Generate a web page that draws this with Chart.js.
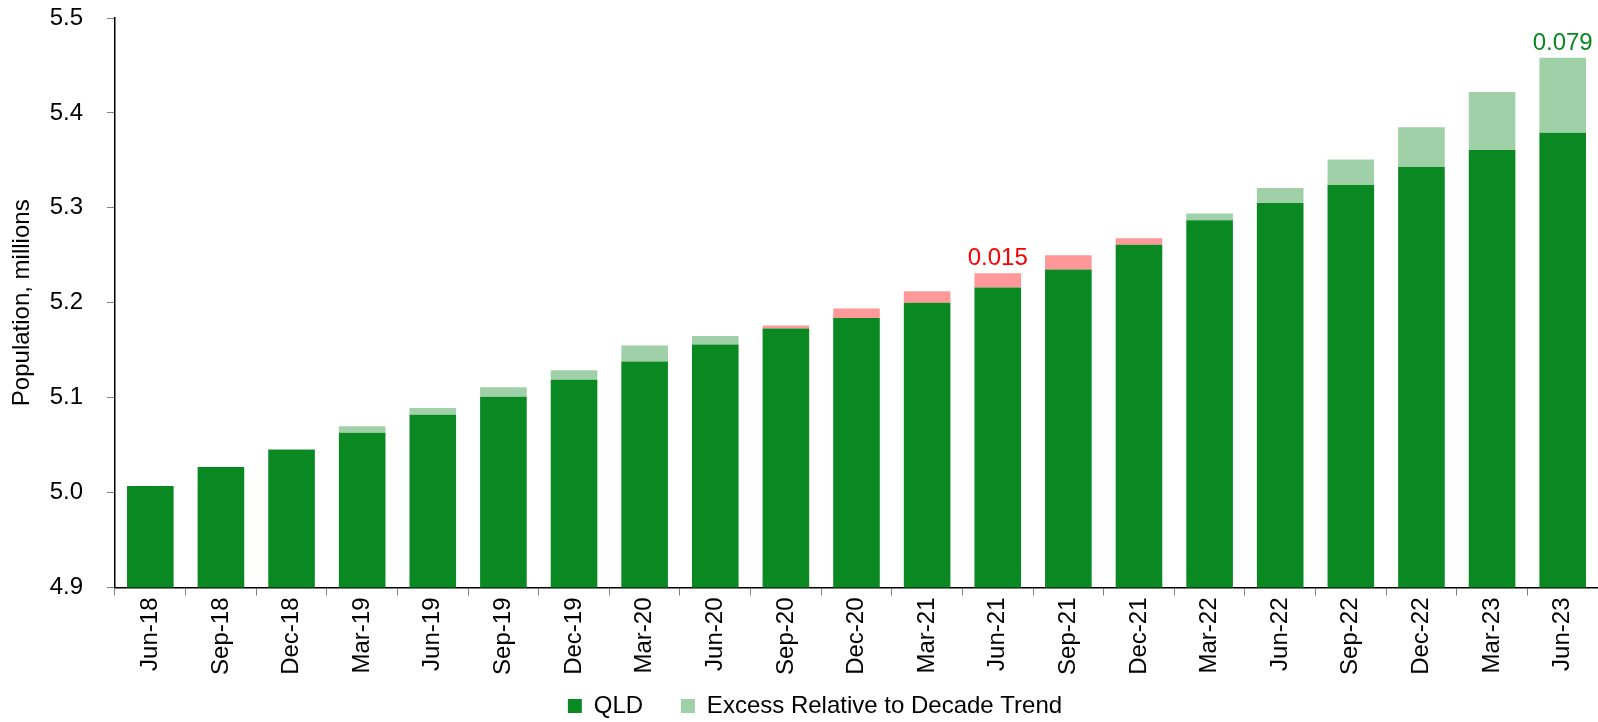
<!DOCTYPE html>
<html>
<head>
<meta charset="utf-8">
<script src="https://cdn.jsdelivr.net/npm/chart.js@4.4.1/dist/chart.umd.min.js"></script>
<style>
    html, body { margin: 0; padding: 0; background: #fff; }
    #wrap { width: 1598px; height: 722px; position: relative; }
</style>
</head>
<body>
<div id="wrap"><canvas id="pop-chart"></canvas></div>
<script>
const quarters = ['Jun-18', 'Sep-18', 'Dec-18', 'Mar-19', 'Jun-19', 'Sep-19', 'Dec-19', 'Mar-20', 'Jun-20', 'Sep-20',
    'Dec-20', 'Mar-21', 'Jun-21', 'Sep-21', 'Dec-21', 'Mar-22', 'Jun-22', 'Sep-22', 'Dec-22', 'Mar-23', 'Jun-23'];
// QLD population, millions
const qld = [5.007, 5.027, 5.045, 5.063, 5.082, 5.101, 5.119, 5.138, 5.156, 5.173,
    5.184, 5.200, 5.216, 5.235, 5.261, 5.287, 5.305, 5.324, 5.343, 5.361, 5.379];
// gap to the decade trend (negative = below trend, drawn in red)
const excess = [0.000, 0.000, 0.001, 0.007, 0.007, 0.010, 0.010, 0.017, 0.009, -0.003,
    -0.010, -0.012, -0.015, -0.015, -0.007, 0.007, 0.016, 0.027, 0.042, 0.061, 0.079];
const labelled = ['Jun-21', 'Jun-23'];
const yTicks = [4.9, 5.0, 5.1, 5.2, 5.3, 5.4, 5.5];

const darkGreen = '#0a8923';
const lightGreen = '#9fd0a8';
const lightRed = '#ff9999';
const fontName = "'Liberation Sans', Arial, sans-serif";

const barLabels = {
    id: 'barLabels',
    afterDatasetsDraw(chart) {
        const ctx = chart.ctx;
        const meta = chart.getDatasetMeta(1);
        ctx.save();
        ctx.font = '24px ' + fontName;
        ctx.textAlign = 'center';
        ctx.textBaseline = 'alphabetic';
        labelled.forEach(q => {
            const i = quarters.indexOf(q);
            const bar = meta.data[i];
            ctx.fillStyle = excess[i] < 0 ? '#ff0000' : '#0a8923';
            ctx.fillText(Math.abs(excess[i]).toFixed(3), bar.x, bar.y - 8);
        });
        ctx.restore();
    }
};

const ctx = document.getElementById('pop-chart').getContext('2d');
new Chart(ctx, {
    type: 'bar',
    data: {
        labels: quarters,
        datasets: [{
            label: 'QLD',
            data: qld,
            backgroundColor: darkGreen,
            barPercentage: 0.66,
            categoryPercentage: 1.0
        }, {
            label: 'Excess Relative to Decade Trend',
            data: excess.map(v => Math.abs(v)),
            backgroundColor: function(c) {
                if (c.type === 'data' && excess[c.dataIndex] < 0) return lightRed;
                return lightGreen;
            },
            barPercentage: 0.66,
            categoryPercentage: 1.0
        }]
    },
    options: {
        responsive: true,
        maintainAspectRatio: false,
        animation: false,
        layout: { padding: { top: 18, right: 0, left: 32, bottom: -6 } },
        plugins: {
            legend: {
                position: 'bottom',
                labels: {
                    font: { size: 24, family: fontName },
                    color: '#000',
                    boxWidth: 14,
                    boxHeight: 14,
                    padding: 11,
                    generateLabels(chart) {
                        const items = Chart.defaults.plugins.legend.labels.generateLabels(chart);
                        items[0].text = items[0].text + '    ';
                        return items;
                    }
                }
            },
            tooltip: { enabled: false }
        },
        scales: {
            x: {
                stacked: true,
                grid: { display: true, drawOnChartArea: false, drawTicks: true, tickLength: 8, color: '#808080', offset: true },
                border: { color: '#000', width: 1.5 },
                ticks: {
                    maxRotation: 90,
                    minRotation: 90,
                    padding: 2,
                    color: '#000',
                    font: { size: 24, family: fontName }
                },
                afterFit(scale) {
                    scale.height = 95.5;
                    scale.paddingLeft = 0;
                    scale.paddingRight = 0;
                }
            },
            y: {
                stacked: true,
                min: 4.9,
                max: 5.5,
                afterBuildTicks(scale) { scale.ticks = yTicks.map(v => ({ value: v })); },
                grid: { display: true, drawOnChartArea: false, drawTicks: true, tickLength: 8, color: '#808080' },
                border: { color: '#000', width: 1.5 },
                ticks: {
                    padding: 24,
                    color: '#000',
                    font: { size: 24, family: fontName },
                    callback: v => v.toFixed(1)
                },
                title: {
                    display: true,
                    text: 'Population, millions',
                    color: '#000',
                    font: { size: 24, family: fontName },
                    padding: { top: -24, bottom: 0 }
                },
                afterFit(scale) {
                    scale.width = 83;
                    scale.paddingTop = 0;
                    scale.paddingBottom = 0;
                }
            }
        }
    },
    plugins: [barLabels]
});
</script>
</body>
</html>
